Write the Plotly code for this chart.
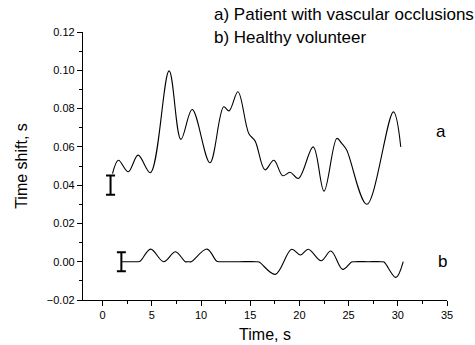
import plotly.graph_objects as go

# Curve a: patient with vascular occlusions (time s, shift s)
a_time = [1.0, 1.6, 2.6, 3.6, 4.85, 6.75, 7.95, 9.1, 10.9, 12.3, 12.85, 13.75,
          14.85, 15.5, 16.5, 17.4, 18.3, 19.05, 19.9, 21.4, 22.5, 23.8, 24.3,
          24.8, 26.85, 29.55, 30.3]
a_shift = [0.046, 0.053, 0.047, 0.0557, 0.0465, 0.0997, 0.0639, 0.0795, 0.0517,
           0.0809, 0.0788, 0.0888, 0.0670, 0.063, 0.048, 0.053, 0.0449, 0.0467,
           0.0435, 0.060, 0.0369, 0.0644, 0.0618, 0.0583, 0.030, 0.0783, 0.060]

# Curve b: healthy volunteer
b_time = [1.9, 2.8, 3.5, 3.8, 4.87, 6.2, 7.4, 8.4, 8.7, 9.0, 10.6, 11.6, 11.9,
          13.8, 15.6, 15.9, 17.55, 19.2, 20.1, 20.9, 22.2, 23.2, 24.4, 25.3,
          25.6, 27.0, 28.3, 28.6, 29.8, 30.55]
b_shift = [0.0, 0.0, 0.0, 0.0002, 0.0066, 0.0, 0.0052, 0.0, 0.0, 0.0, 0.0066,
           0.0002, 0.0, 0.0, 0.0, -0.0002, -0.0066, 0.0065, 0.0035, 0.0065,
           0.0005, 0.0056, -0.004, -0.0002, 0.0, 0.0, 0.0, -0.0002, -0.0082, 0.0]

# Error bars
err_time = [0.8, 1.9]
err_center = [0.040, 0.0]
err_half = [0.005, 0.005]

legend_lines = ["a) Patient with vascular occlusions", "b) Healthy volunteer"]
legend_y = [1.067, 0.980]
curve_labels = ["a", "b"]
label_pos = [(34.4, 0.068), (34.5, 0.0)]

FONT = "Liberation Sans, Arial, sans-serif"

fig = go.Figure()
fig.add_trace(go.Scatter(x=a_time, y=a_shift, mode="lines",
                         line=dict(color="black", width=1.1, shape="spline", smoothing=1.0),
                         showlegend=False))
fig.add_trace(go.Scatter(x=b_time, y=b_shift, mode="lines",
                         line=dict(color="black", width=1.1, shape="spline", smoothing=1.0),
                         showlegend=False))
fig.add_trace(go.Scatter(x=err_time, y=err_center, mode="markers",
                         marker=dict(size=1, color="rgba(0,0,0,0)"),
                         error_y=dict(type="data", array=err_half, symmetric=True,
                                      color="black", thickness=2, width=4.5),
                         showlegend=False))

for t, ly in zip(legend_lines, legend_y):
    fig.add_annotation(x=0.354, y=ly, xref="paper", yref="paper", text=t, showarrow=False,
                       xanchor="left", yanchor="middle",
                       font=dict(family=FONT, size=17, color="black"))
for (lx, ly), t in zip(label_pos, curve_labels):
    fig.add_annotation(x=lx, y=ly, xref="x", yref="y", text=t, showarrow=False,
                       xanchor="center", yanchor="middle",
                       font=dict(family=FONT, size=17, color="black"))

axis_common = dict(showline=True, linecolor="black", linewidth=1.3, ticks="outside",
                   ticklen=5, tickwidth=1.2, tickcolor="black", showgrid=False,
                   zeroline=False, mirror=False, automargin=False,
                   tickfont=dict(family=FONT, size=11, color="black"))

fig.update_xaxes(range=[-2, 35], tick0=0, dtick=5,
                 title=dict(text="Time, s", font=dict(family=FONT, size=16, color="black"),
                            standoff=8),
                 minor=dict(ticks="outside", ticklen=3, dtick=2.5, tick0=0,
                            tickcolor="black", tickwidth=1.2),
                 **axis_common)
fig.update_yaxes(range=[-0.02, 0.12], tick0=0, dtick=0.02, tickformat=".2f",
                 title=dict(text="Time shift, s", font=dict(family=FONT, size=16, color="black"),
                            standoff=15),
                 minor=dict(ticks="outside", ticklen=3, dtick=0.01, tick0=0,
                            tickcolor="black", tickwidth=1.2),
                 **axis_common)

fig.update_layout(width=475, height=345, plot_bgcolor="white", paper_bgcolor="white",
                  margin=dict(l=83, r=28, t=32, b=45), showlegend=False)

fig.write_html("out.html")
